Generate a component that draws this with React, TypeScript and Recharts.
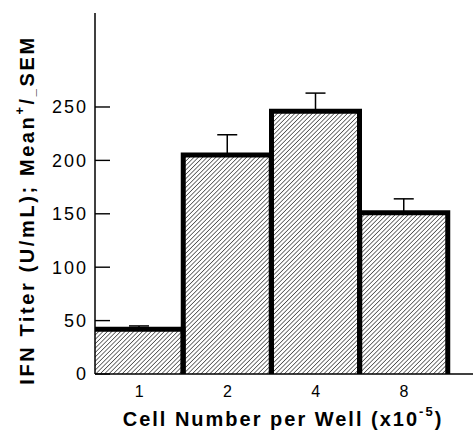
import React from 'react';
import { BarChart, Bar, XAxis, YAxis, ErrorBar } from 'recharts';

const cellNumbers = ['1', '2', '4', '8'];
const titerMeans = [42, 205, 246, 151];
const titerSem = [3, 19, 17, 13];
const yTicks = [0, 50, 100, 150, 200, 250];

const data = cellNumbers.map((c, i) => ({
  cells: c,
  titer: titerMeans[i],
  sem: [0, titerSem[i]],
}));

const FONT = '"Liberation Sans", Arial, Helvetica, sans-serif';

// inward tick mark + label
const YTick = (props: any) => {
  const { x, y, payload } = props;
  return (
    <g>
      <path d={`M${x + 7},${y} h15`} stroke="#000" strokeWidth={1.4} />
      <text x={x} y={y} dy="0.36em" textAnchor="end" fontSize={18} letterSpacing={2} fontFamily={FONT} fill="#000">
        {payload.value}
      </text>
    </g>
  );
};

const XTick = (props: any) => {
  const { x, y, payload } = props;
  return (
    <text x={x} y={y} dy="0.71em" textAnchor="middle" fontSize={16} fontFamily={FONT} fill="#000">
      {payload.value}
    </text>
  );
};

const HatchBar = (props: any) => {
  const { x, y, width, height, index } = props;
  const left = index === 0 ? `M${x},${y}` : `M${x},${y + height} L${x},${y}`;
  return (
    <g>
      <rect x={x} y={y} width={width} height={height} fill="url(#hatch)" />
      <path d={`${left} L${x + width},${y} L${x + width},${y + height}`} fill="none" stroke="#000" strokeWidth={5} />
    </g>
  );
};

export default function App() {
  return (
    <div style={{ position: 'absolute', left: 0, top: 0, background: '#fff' }}>
      <BarChart
        width={473}
        height={433}
        data={data}
        margin={{ top: 13, right: 0, left: 0, bottom: 0 }}
        barCategoryGap={0}
      >
        <defs>
          <pattern id="hatch" width="3.1" height="3.1" patternUnits="userSpaceOnUse" patternTransform="rotate(45)">
            <line x1="0" y1="0" x2="0" y2="3.1" stroke="#000" strokeWidth={1.1} />
          </pattern>
        </defs>
        <XAxis
          dataKey="cells"
          height={59}
          tickLine={false}
          tickSize={0}
          tickMargin={12}
          padding={{ left: 0, right: 25 }}
          axisLine={{ stroke: '#000', strokeWidth: 1.5 }}
          tick={<XTick />}
        />
        <YAxis
          width={95}
          domain={[0, 338]}
          ticks={yTicks}
          tickSize={0}
          tickMargin={7}
          tickLine={false}
          axisLine={{ stroke: '#000', strokeWidth: 1.5 }}
          tick={<YTick />}
        />
        <Bar dataKey="titer" shape={<HatchBar />} isAnimationActive={false}>
          <ErrorBar dataKey="sem" width={10} stroke="#000" strokeWidth={1.5} direction="y" />
        </Bar>
        <text x={27} y={210} transform="rotate(-90 27 210)" textAnchor="middle" dominantBaseline="central" fontSize={20} letterSpacing={2.6} fontWeight="bold" fontFamily={FONT} fill="#000">
          IFN Titer (U/mL); Mean
          <tspan dy={-8} fontSize={13}>+</tspan>
          <tspan dy={8}>/</tspan>
          <tspan dy={3} fontSize={13}>_</tspan>
          <tspan dy={-3}>SEM</tspan>
        </text>
        <text x={283} y={419} textAnchor="middle" dominantBaseline="central" fontSize={20} letterSpacing={2} fontWeight="bold" fontFamily={FONT} fill="#000">
          Cell Number per Well (x10
          <tspan dy={-8} fontSize={13}>-5</tspan>
          <tspan dy={8}>)</tspan>
        </text>
      </BarChart>
    </div>
  );
}
